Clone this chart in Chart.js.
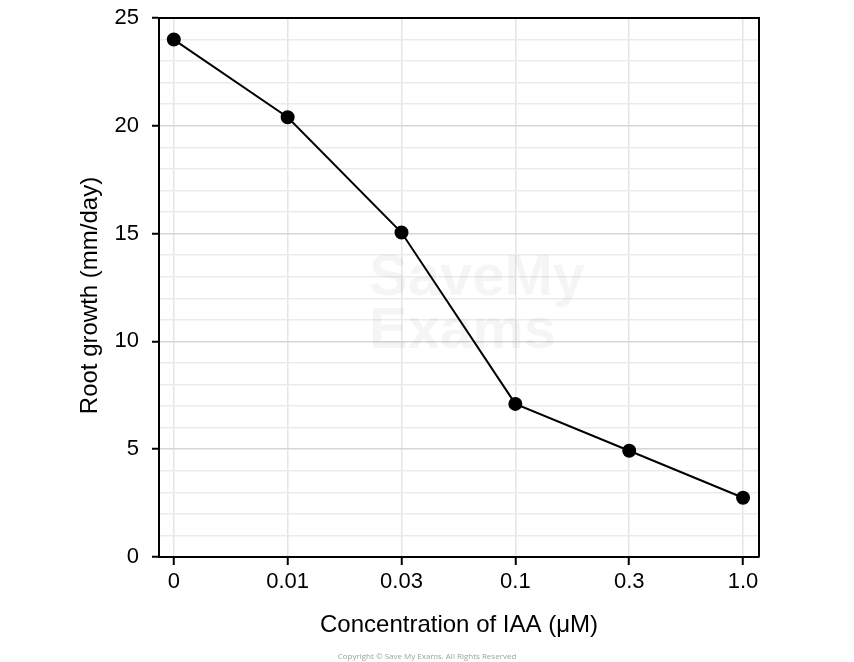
<!DOCTYPE html>
<html>
<head>
<meta charset="utf-8">
<script src="https://cdn.jsdelivr.net/npm/chart.js@4"></script>
<style>
  html, body { margin: 0; padding: 0; background: #fff; }
  #wrap { position: relative; width: 854px; height: 662px; }
  #copy { position: absolute; left: 0; width: 854px; top: 650px; text-align: center;
          font: 8px "Open Sans", sans-serif; color: #a0a0a0; }
</style>
</head>
<body>
<div id="wrap">
  <canvas id="chart" width="854" height="662"></canvas>
  <div id="copy">Copyright © Save My Exams. All Rights Reserved</div>
</div>
<script>
const concentrations = ['0', '0.01', '0.03', '0.1', '0.3', '1.0'];
const rootGrowth = [24.0, 20.4, 15.05, 7.1, 4.93, 2.75];
const yTicks = [0, 5, 10, 15, 20, 25];

const FONT = '"Liberation Sans", Arial, sans-serif';
const yTitle = 'Root growth (mm/day)';

// box around plot, faint watermark, y title
const framePlugin = {
    id: 'frame',
    beforeDatasetsDraw(chart) {
        const { ctx, chartArea: a } = chart;
        ctx.save();
        ctx.fillStyle = 'rgba(0,0,0,0.04)';
        ctx.font = 'bold 58px ' + FONT;
        ctx.textBaseline = 'alphabetic';
        ctx.fillText('SaveMy', a.left + 210, a.top + 277);
        ctx.fillText('Exams', a.left + 210, a.top + 330);
        ctx.restore();
    },
    afterDraw(chart) {
        const { ctx, chartArea: a } = chart;
        ctx.save();
        ctx.strokeStyle = '#000';
        ctx.lineWidth = 2;
        ctx.beginPath();
        ctx.moveTo(a.left, a.top);
        ctx.lineTo(a.right, a.top);
        ctx.lineTo(a.right, a.bottom);
        ctx.stroke();

        ctx.translate(90, (a.top + a.bottom) / 2 + 8);
        ctx.rotate(-Math.PI / 2);
        ctx.fillStyle = '#000';
        ctx.font = '24px ' + FONT;
        ctx.textAlign = 'center';
        ctx.textBaseline = 'middle';
        ctx.fillText(yTitle, 0, 0);
        ctx.restore();
    }
};

new Chart(document.getElementById('chart'), {
    type: 'line',
    data: {
        datasets: [{
            data: rootGrowth.map((v, i) => ({ x: i, y: v })),
            borderColor: '#000',
            backgroundColor: '#000',
            borderWidth: 2,
            pointRadius: 6,
            pointHoverRadius: 6,
            tension: 0
        }]
    },
    options: {
        responsive: false,
        animation: false,
        layout: { padding: { left: 74, right: 95, top: 18, bottom: 20 } },
        plugins: { legend: { display: false }, tooltip: { enabled: false } },
        scales: {
            x: {
                type: 'linear',
                min: -0.13,
                max: 5.14,
                afterBuildTicks: (s) => { s.ticks = concentrations.map((c, i) => ({ value: i })); },
                afterFit: (s) => { s.height = 85; s.paddingLeft = 0; s.paddingRight = 0; },
                ticks: {
                    autoSkip: false,
                    maxRotation: 0,
                    padding: 4,
                    color: '#000',
                    font: { family: FONT, size: 22 },
                    callback: (v) => concentrations[v]
                },
                grid: { color: '#e4e4e4', lineWidth: 1.5, tickLength: 8, tickColor: '#000', tickWidth: 2 },
                border: { color: '#000', width: 2 },
                title: { display: true, text: 'Concentration of IAA (μM)', color: '#000',
                         font: { family: FONT, size: 24 }, padding: 2 }
            },
            y: {
                min: 0,
                max: 25,
                afterFit: (s) => { s.width = 85; s.paddingTop = 0; s.paddingBottom = 0; },
                ticks: {
                    stepSize: 1,
                    autoSkip: false,
                    padding: 13,
                    color: '#000',
                    font: { family: FONT, size: 22 },
                    callback: (v) => yTicks.includes(v) ? String(v) : ''
                },
                grid: {
                    color: (c) => yTicks.includes(c.tick.value) ? '#d6d6d6' : '#ebebeb',
                    lineWidth: 1.5,
                    tickLength: 7,
                    tickWidth: 2,
                    tickColor: (c) => yTicks.includes(c.tick.value) ? '#000' : 'rgba(0,0,0,0)'
                },
                border: { color: '#000', width: 2 },
                title: { display: false }
            }
        }
    },
    plugins: [framePlugin]
});
</script>
</body>
</html>
